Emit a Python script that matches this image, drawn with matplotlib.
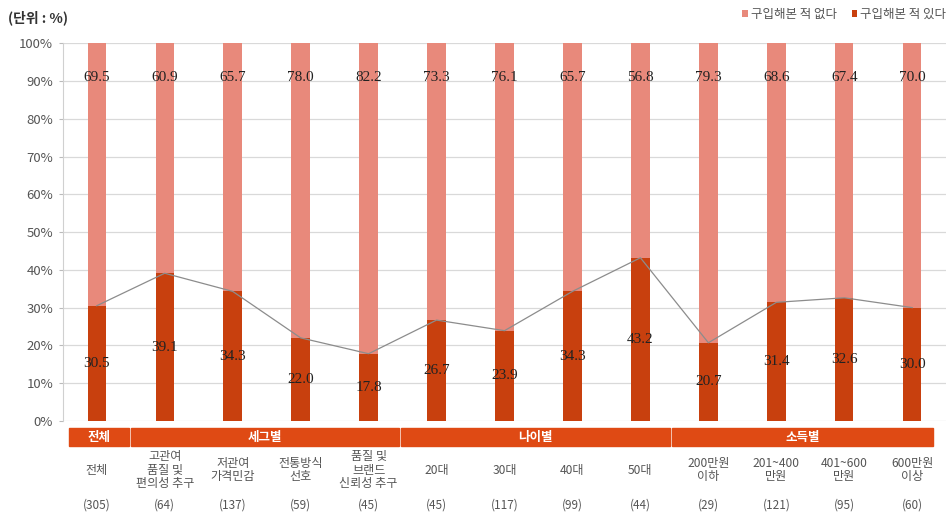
import matplotlib
matplotlib.use("Agg")
import matplotlib.pyplot as plt
import matplotlib.transforms as mtransforms
from matplotlib.patches import Rectangle

plt.rcParams['font.family'] = ['Noto Sans CJK KR', 'DejaVu Sans']

# Data
categories = ["전체", "고관여\n품질 및\n편의성 추구", "저관여\n가격민감", "전통방식\n선호",
              "품질 및\n브랜드\n신뢰성 추구", "20대", "30대", "40대", "50대",
              "200만원\n이하", "201~400\n만원", "401~600\n만원", "600만원\n이상"]
counts = ["(305)", "(64)", "(137)", "(59)", "(45)", "(45)", "(117)", "(99)", "(44)",
          "(29)", "(121)", "(95)", "(60)"]
bought = [30.5, 39.1, 34.3, 22.0, 17.8, 26.7, 23.9, 34.3, 43.2, 20.7, 31.4, 32.6, 30.0]
not_bought = [69.5, 60.9, 65.7, 78.0, 82.2, 73.3, 76.1, 65.7, 56.8, 79.3, 68.6, 67.4, 70.0]
groups = ["전체", "세그별", "나이별", "소득별"]

c_top = "#E8897B"
c_bot = "#C8400E"
c_band = "#DF4A14"

fig = plt.figure(figsize=(9.51, 5.14), dpi=100)
ax = fig.add_axes([0.066, 0.181, 0.929, 0.735])

x = list(range(len(categories)))
w = 0.27
ax.bar(x, bought, width=w, color=c_bot, zorder=3, label="구입해본 적 있다")
ax.bar(x, not_bought, width=w, bottom=bought, color=c_top, zorder=3,
       label="구입해본 적 없다")
ax.plot(x, bought, color="#8C8C8C", lw=0.9, zorder=4)

for xi, b, t in zip(x, bought, not_bought):
    ax.text(xi, b / 2, f"{b:.1f}", ha="center", va="center", fontsize=11,
            family="Liberation Serif", color="#222222", zorder=5)
    ax.text(xi, 91, f"{t:.1f}", ha="center", va="center", fontsize=11,
            family="Liberation Serif", color="#222222", zorder=5)

ax.set_xlim(-0.5, 12.5)
ax.set_ylim(0, 100)
ax.set_yticks(range(0, 101, 10))
ax.set_yticklabels([f"{v}%" for v in range(0, 101, 10)], fontsize=9.5, color="#555555")
ax.yaxis.grid(True, color="#D9D9D9", lw=0.9, zorder=0)
ax.axhline(100, color="#A6A6A6", lw=1.2, zorder=1)
ax.set_xticks([])
ax.tick_params(axis="y", length=3, color="#BBBBBB", pad=4)
for s in ["top", "right", "bottom"]:
    ax.spines[s].set_visible(False)
ax.spines["left"].set_color("#D0D0D0")

# Group header band and category labels below the axis
trans = mtransforms.blended_transform_factory(ax.transData, ax.transAxes)
band_edges = [(-0.41, 0.47), (0.5, 4.45), (4.48, 8.43), (8.46, 12.31)]
for g, (a, b) in zip(groups, band_edges):
    ax.add_patch(Rectangle((a, -0.019), b - a, -0.048, transform=trans,
                           color=c_band, clip_on=False, zorder=2))
    ax.text((a + b) / 2, -0.043, g, transform=trans, ha="center", va="center",
            color="white", fontsize=9, fontweight="bold")

for xi, lab, n in zip(x, categories, counts):
    ax.text(xi, -0.13, lab, transform=trans, ha="center", va="center",
            fontsize=8.7, color="#555555", linespacing=1.05)
    ax.text(xi, -0.222, n, transform=trans, ha="center", va="center",
            fontsize=8.5, color="#555555")

fig.text(0.008, 0.965, "(단위 : %)", fontsize=10, fontweight="bold",
         color="#333333", va="center")

handles, labels = ax.get_legend_handles_labels()
leg = ax.legend(handles[::-1], labels[::-1], loc="lower right",
                bbox_to_anchor=(1.005, 1.045), ncol=2, frameon=False, fontsize=9,
                handlelength=0.45, handleheight=0.45, handletextpad=0.2,
                columnspacing=1.2, borderaxespad=0)
for t in leg.get_texts():
    t.set_color("#555555")

fig.savefig("out.png", dpi=100)
